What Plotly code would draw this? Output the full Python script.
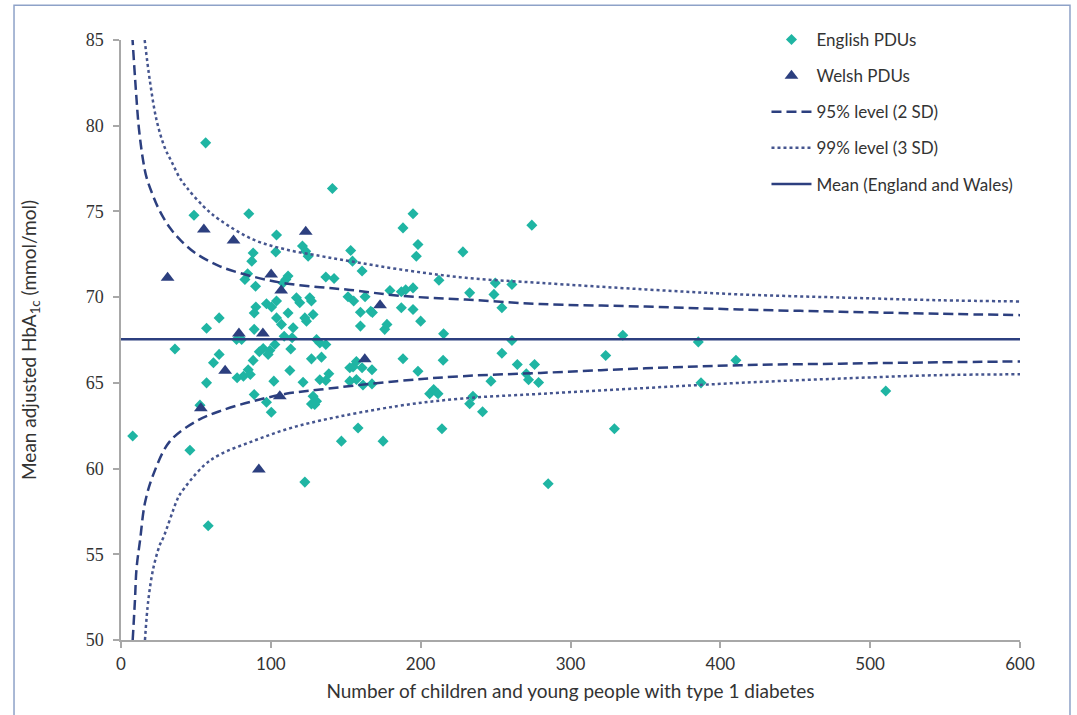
import plotly.graph_objects as go

# ---------------- data ----------------
english_n = [7.8, 36.0, 46.0, 48.7, 56.5, 58.2, 57.1, 57.1, 52.7, 61.7, 65.5, 65.5, 77.1, 80.5,
             77.5, 81.7, 84.9, 86.3, 82.7, 84.5, 85.3, 88.2, 87.3, 89.8, 90.0, 88.9, 88.9, 88.2,
             88.9, 92.3, 94.9, 99.3, 98.2, 102.7, 97.1, 100.5, 103.8, 103.8, 103.8, 103.3, 102.0,
             97.1, 100.3, 107.1, 108.9, 108.2, 110.0, 111.5, 111.5, 112.7, 113.3, 114.9, 114.2,
             117.1, 119.3, 121.1, 123.3, 124.9, 121.5, 122.7, 123.8, 126.0, 127.1, 128.2, 127.1,
             130.5, 132.7, 136.7, 133.8, 128.2, 130.5, 129.3, 127.1, 122.7, 132.7, 136.7, 138.7,
             141.1, 136.7, 142.2, 151.5, 155.3, 153.3, 154.5, 160.9, 162.9, 159.8, 159.8, 166.7,
             167.8, 177.5, 176.0, 179.5, 187.1, 190.0, 194.9, 187.1, 194.9, 188.2, 194.9, 198.2,
             197.1, 200.0, 212.2, 215.3, 228.2, 232.7, 248.9, 249.8, 260.9, 254.2, 260.9, 254.2,
             274.2, 152.7, 154.9, 157.1, 160.9, 167.5, 152.7, 157.1, 161.5, 167.5, 188.2, 215.0,
             198.2, 206.0, 208.7, 211.6, 234.9, 232.7, 241.3, 246.9, 264.5, 276.0, 270.5, 272.0,
             278.7, 158.2, 214.2, 147.1, 174.9, 285.1, 334.9, 323.5, 329.3, 385.3, 387.1, 410.4,
             510.4]
english_hba1c = [61.9, 66.97, 61.07, 74.78, 79.0, 56.67, 68.19, 65.0, 63.7, 66.17, 66.66, 68.79,
                 67.53, 67.53, 65.3, 65.39, 65.77, 65.49, 71.03, 71.36, 74.86, 72.58, 72.1, 70.64,
                 69.42, 69.08, 68.12, 66.31, 64.32, 66.82, 67.0, 66.89, 66.66, 67.24, 69.61, 69.42,
                 69.77, 68.79, 73.62, 72.64, 65.1, 63.87, 63.29, 68.41, 67.72, 70.83, 71.03, 71.23,
                 69.08, 65.72, 66.97, 68.21, 67.63, 69.96, 69.67, 72.98, 72.68, 72.39, 65.04, 68.79,
                 68.6, 69.96, 69.77, 68.99, 66.4, 67.53, 67.33, 67.24, 66.5, 64.22, 63.93, 63.74,
                 63.77, 59.21, 65.18, 65.14, 65.53, 76.34, 71.17, 71.09, 70.02, 69.77, 72.72, 72.1,
                 71.52, 70.02, 69.12, 68.31, 69.18, 69.1, 68.41, 68.12, 70.39, 70.31, 70.43, 70.54,
                 69.38, 69.28, 74.04, 74.86, 73.07, 72.39, 68.6, 70.99, 67.87, 72.64, 70.25, 70.16,
                 70.83, 70.74, 69.38, 67.47, 66.73, 74.2, 65.88, 65.92, 66.25, 65.88, 65.76, 65.1,
                 65.2, 64.87, 64.94, 66.41, 66.32, 65.68, 64.36, 64.61, 64.36, 64.22, 63.78, 63.31,
                 65.1, 66.07, 66.07, 65.53, 65.18, 65.02, 62.37, 62.32, 61.6, 61.6, 59.11, 67.78,
                 66.6, 62.32, 67.39, 65.0, 66.32, 64.52]

welsh_n = [31.1, 55.3, 75.1, 123.3, 100.2, 106.9, 78.7, 94.7, 69.5, 53.3, 106.0, 92.0, 172.9, 162.7]
welsh_hba1c = [71.13, 73.95, 73.31, 73.81, 71.32, 70.39, 67.88, 67.88, 65.71, 63.52, 64.22, 59.95,
               69.53, 66.37]

mean_n = [0, 600]
mean_value = [67.55, 67.55]

upper95_n = [7.5, 10, 12, 14.7, 17, 21, 26, 33, 40, 50, 66, 88, 110, 133, 153, 186, 230, 280,
             350, 413, 480, 546, 600]
upper95_y = [85.3, 82.0, 79.8, 78.0, 77.0, 76.0, 75.0, 74.0, 73.3, 72.55, 71.8, 71.2, 70.8, 70.58,
             70.42, 70.08, 69.86, 69.6, 69.45, 69.28, 69.15, 69.03, 68.95]
lower95_n = [7.8, 9.3, 10.4, 12.7, 16, 21.6, 32.7, 50.4, 66, 88, 110, 133, 184, 228, 280, 350,
             413, 480, 546, 600]
lower95_y = [50.0, 52.3, 54.2, 55.8, 58.0, 59.66, 61.6, 62.77, 63.35, 63.93, 64.36, 64.61, 65.1,
             65.39, 65.58, 65.85, 66.03, 66.12, 66.2, 66.25]

upper99_n = [15.8, 19.3, 23.8, 29.3, 33.8, 38.9, 43.8, 55, 66, 88, 110, 133, 153, 186, 230, 280,
             350, 413, 480, 546, 600]
upper99_y = [85.0, 82.6, 80.3, 78.7, 77.9, 77.0, 76.4, 75.3, 74.5, 73.37, 72.78, 72.4, 72.1, 71.62,
             71.13, 70.83, 70.45, 70.16, 69.98, 69.82, 69.75]
lower99_n = [16, 18.2, 21.6, 26, 28.2, 37.1, 39.3, 54.9, 66, 88, 110, 133, 184, 228, 280, 350, 413,
             480, 546, 600]
lower99_y = [50.0, 52.3, 54.2, 55.57, 55.96, 58.1, 58.49, 60.14, 60.82, 61.6, 62.28, 62.8, 63.64,
             64.09, 64.36, 64.7, 65.0, 65.25, 65.45, 65.5]

x_ticks = [0, 100, 200, 300, 400, 500, 600]
y_ticks = [50, 55, 60, 65, 70, 75, 80, 85]

# ---------------- styles ----------------
TEAL = "#1fb5a3"
NAVY = "#2c3f7f"
DOT = "#45558f"
GREY_AXIS = "#a8a8a8"
TEXT = "#333333"
FONT = "Lato, 'Open Sans', sans-serif"

fig = go.Figure()

fig.add_trace(go.Scatter(x=english_n, y=english_hba1c, mode="markers", name="English PDUs",
                         legendgroup="a",
                         marker=dict(symbol="diamond", size=8.5, color=TEAL,
                                     line=dict(width=0))))
fig.add_trace(go.Scatter(x=welsh_n, y=welsh_hba1c, mode="markers", name="Welsh PDUs",
                         legendgroup="b",
                         marker=dict(symbol="triangle-up", size=12, color=NAVY,
                                     line=dict(width=0))))
fig.add_trace(go.Scatter(x=upper95_n, y=upper95_y, mode="lines", name="95% level (2 SD)",
                         legendgroup="c", line_shape="spline",
                         line=dict(color=NAVY, width=2.5, dash="10px,5px")))
fig.add_trace(go.Scatter(x=lower95_n, y=lower95_y, mode="lines", name="95% level (2 SD)",
                         legendgroup="c", showlegend=False, line_shape="spline",
                         line=dict(color=NAVY, width=2.5, dash="10px,5px")))
fig.add_trace(go.Scatter(x=upper99_n, y=upper99_y, mode="lines", name="99% level (3 SD)",
                         legendgroup="d", line_shape="spline",
                         line=dict(color=DOT, width=2.5, dash="3px,3px")))
fig.add_trace(go.Scatter(x=lower99_n, y=lower99_y, mode="lines", name="99% level (3 SD)",
                         legendgroup="d", showlegend=False, line_shape="spline",
                         line=dict(color=DOT, width=2.5, dash="3px,3px")))
fig.add_trace(go.Scatter(x=mean_n, y=mean_value, mode="lines", name="Mean (England and Wales)",
                         legendgroup="e",
                         line=dict(color=NAVY, width=2.5)))

axis_common = dict(showgrid=False, zeroline=False, showline=True, linecolor=GREY_AXIS,
                   linewidth=1.5, ticks="outside", tickcolor=GREY_AXIS, ticklen=6, tickwidth=1.5,
                   mirror=False, automargin=False)

fig.update_layout(
    width=1077, height=715,
    paper_bgcolor="white", plot_bgcolor="white",
    margin=dict(l=121, r=57, t=40, b=75),
    font=dict(family=FONT, color=TEXT, size=17),
    xaxis=dict(range=[0, 600], tickvals=x_ticks, ticktext=[str(v) for v in x_ticks],
               tickfont=dict(size=17, color=TEXT), ticklabelstandoff=2,
               title=dict(text="Number of children and young people with type 1 diabetes",
                          font=dict(size=19, color=TEXT), standoff=12),
               **axis_common),
    yaxis=dict(range=[50, 85], tickvals=y_ticks, ticktext=[str(v) for v in y_ticks],
               tickfont=dict(size=18, color=TEXT, family="'Liberation Serif', serif"),
               ticklabelstandoff=6,
               title=dict(text="Mean adjusted HbA<sub>1c</sub> (mmol/mol)",
                          font=dict(size=19, color=TEXT), standoff=44),
               **axis_common),
    legend=dict(x=0.718, y=1.03, xanchor="left", yanchor="top", bgcolor="rgba(0,0,0,0)",
                font=dict(size=17, color=TEXT), tracegroupgap=11, itemwidth=40,
                traceorder="grouped"),
    showlegend=True,
    shapes=[dict(type="rect", xref="paper", yref="paper", x0=-0.119, x1=1.0556, y0=-0.14,
                 y1=1.058, line=dict(color="#8ea2c8", width=1.5), fillcolor="rgba(0,0,0,0)",
                 layer="below")],
)

fig.write_html("out.html", config={"displayModeBar": False},
               post_script="document.body.style.margin='0';")
